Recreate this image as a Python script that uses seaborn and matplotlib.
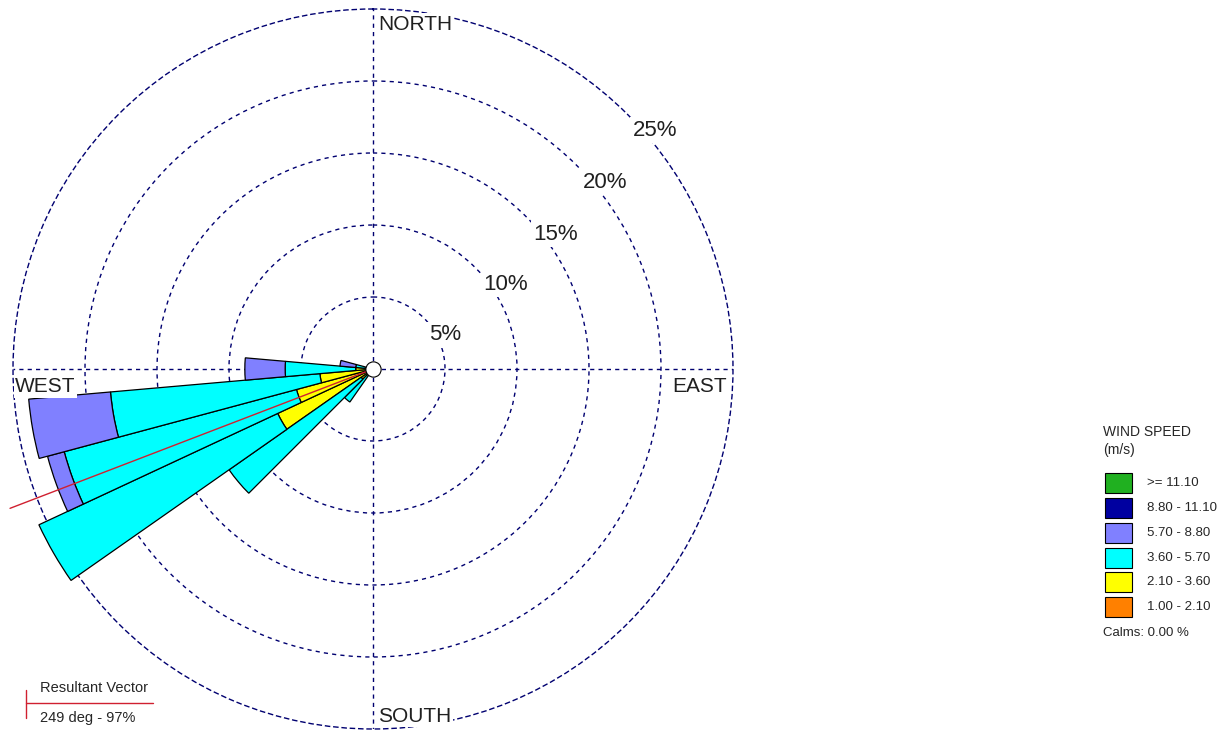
import numpy as np
import matplotlib
matplotlib.use("Agg")
import matplotlib.pyplot as plt
from matplotlib.patches import Rectangle
import seaborn as sns

# directions (deg, compass) and frequency (%) per speed class
directions = [220, 230, 240, 250, 260, 270, 280]
f_1_00 = [0.1, 0.2, 0.5, 0.6, 0.4, 0.3, 0.0]
f_2_10 = [0.4, 0.8, 6.8, 4.9, 3.3, 0.9, 0.0]
f_3_60 = [2.3, 11.2, 18.3, 16.7, 14.6, 4.9, 1.2]
f_5_70 = [0.0, 0.0, 0.0, 1.2, 5.7, 2.8, 1.1]
f_8_80 = [0.0, 0.0, 0.0, 0.0, 0.0, 0.0, 0.0]
f_11_10 = [0.0, 0.0, 0.0, 0.0, 0.0, 0.0, 0.0]

speed_labels = ["1.00 - 2.10", "2.10 - 3.60", "3.60 - 5.70",
                "5.70 - 8.80", "8.80 - 11.10", ">= 11.10"]
speed_colors = ["#ff8000", "#ffff00", "#00ffff", "#8080ff", "#0000a0", "#20b020"]
ring_values = [5, 10, 15, 20, 25]
resultant_dir = 249
resultant_pct = 97
calms = 0.00

sns.set_theme(style="white")
plt.rcParams["font.family"] = ["Liberation Sans", "DejaVu Sans"]
palette = sns.color_palette(speed_colors)

W, H = 1224, 731
cx, cy, R = 373, 369, 360
fig = plt.figure(figsize=(W / 100, H / 100), dpi=100)
fig.patch.set_facecolor("white")

ax = fig.add_axes([(cx - R) / W, (H - cy - R) / H, 2 * R / W, 2 * R / H],
                  projection="polar")
ax.set_theta_zero_location("N")
ax.set_theta_direction(-1)
ax.set_ylim(0, 25)
ax.set_facecolor("none")
ax.set_axisbelow(True)
grid_kw = dict(color="#000070", linestyle=(0, (3, 3)), linewidth=1.0)
ax.set_thetagrids([0, 90, 180, 270], labels=["", "", "", ""])
ax.set_rgrids(ring_values[:-1], labels=[""] * 4)
ax.grid(True, **grid_kw)
ax.spines["polar"].set_linestyle((0, (3, 3)))
ax.spines["polar"].set_color("#000070")
ax.spines["polar"].set_linewidth(1.0)

theta = np.radians(directions)
width = np.radians(10)
series = [f_1_00, f_2_10, f_3_60, f_5_70, f_8_80, f_11_10]
bottom = np.zeros(len(directions))
for vals, col in zip(series, palette):
    vals = np.array(vals)
    m = vals > 0
    if m.any():
        bars = ax.bar(theta[m], vals[m], width=width, bottom=bottom[m], color=col,
                      edgecolor="black", linewidth=0.9, zorder=3)
        for b in bars:
            b.set_clip_on(False)
    bottom += vals

# resultant vector
ax.plot([np.radians(resultant_dir)] * 2, [0, 27], color="#d02030",
        linewidth=1.0, zorder=4, clip_on=False)
# calms circle
ax.plot([0], [0], marker="o", markersize=11, markerfacecolor="white",
        markeredgecolor="black", markeredgewidth=0.8, zorder=5)

# overlay in pixel coordinates for labels and legend
ov = fig.add_axes([0, 0, 1, 1])
ov.set_xlim(0, W)
ov.set_ylim(H, 0)
ov.axis("off")
ov.patch.set_alpha(0)

box = dict(facecolor="white", edgecolor="none", pad=1.0)
ov.text(378, 24, "NORTH", fontsize=15, ha="left", va="center", color="#202020", bbox=box)
ov.text(727, 387, "EAST", fontsize=15, ha="right", va="center", color="#202020", bbox=box)
ov.text(378, 716, "SOUTH", fontsize=15, ha="left", va="center", color="#202020", bbox=box)
ov.text(15, 387, "WEST", fontsize=15, ha="left", va="center", color="#202020", bbox=box)

ring_pos = [(445, 335), (506, 284), (556, 234), (605, 182), (655, 130)]
for v, (x, y) in zip(ring_values, ring_pos):
    ov.text(x, y, f"{v}%", fontsize=16, ha="center", va="center", color="#202020",
            bbox=dict(facecolor="white", edgecolor="none", pad=2.0))

# legend
ov.text(1103, 432, "WIND SPEED", fontsize=10, ha="left", va="center")
ov.text(1103, 450, "(m/s)", fontsize=10, ha="left", va="center")
tops = [473, 498, 523, 548, 572, 597]
for top, lab, col in zip(tops, speed_labels[::-1], list(palette)[::-1]):
    ov.add_patch(Rectangle((1105, top), 27, 20, facecolor=col, edgecolor="black", linewidth=0.8))
    ov.text(1147, top + 10, lab, fontsize=9.5, ha="left", va="center")
ov.text(1103, 633, f"Calms: {calms:.2f} %", fontsize=9.5, ha="left", va="center")

# resultant vector key
ov.plot([26, 26], [690, 718], color="#d02030", linewidth=1.0)
ov.plot([26, 153], [703, 703], color="#d02030", linewidth=1.0)
ov.text(40, 688, "Resultant Vector", fontsize=10.5, ha="left", va="center")
ov.text(40, 718, f"{resultant_dir} deg - {resultant_pct}%", fontsize=10.5, ha="left", va="center")

fig.savefig("out.png", dpi=100)
